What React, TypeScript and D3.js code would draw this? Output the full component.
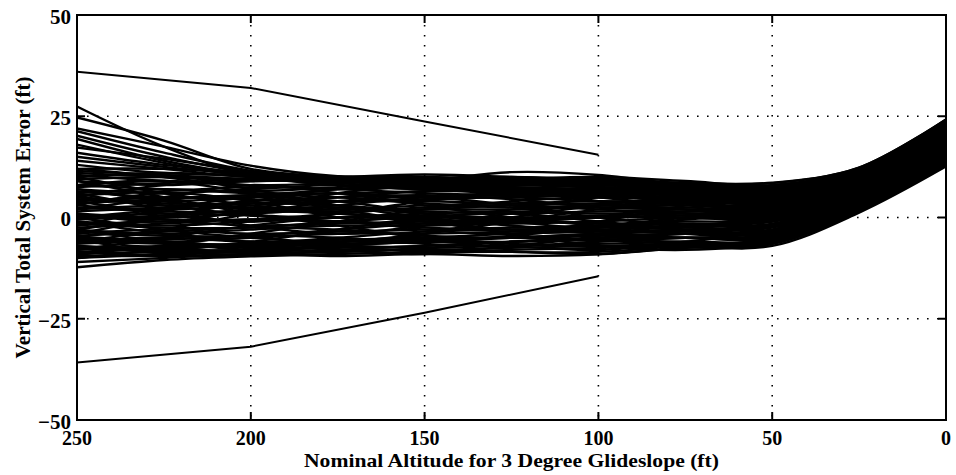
import * as d3 from "d3";

// sample altitudes (ft), left to right on the chart
const altitudes = [250, 225, 200, 175, 150, 125, 100, 75, 50, 25, 0];

// runs that start high and fall into the bundle
const upperTraces = [
  [27.4, 17.5, 10.5, 9.5, 9, 8.5, 8, 7.5, 7, 11.3, 23.3],
  [24.7, 19, 12, 10, 9.5, 9, 8.5, 8, 8, 12, 24],
  [22, 17.5, 12.8, 10.2, 10, 9.5, 9, 8.5, 8.6, 12.3, 24.2],
  [21.3, 16, 11.5, 9, 8, 7.5, 7, 6.5, 6, 10.6, 22.6],
  [20.2, 15, 11, 9.5, 8.5, 8, 7.5, 7, 6.5, 11, 23],
  [19.4, 14, 10.5, 8.5, 7.5, 7, 6.5, 6, 5.5, 10.2, 22.2],
  [18, 13.5, 10, 8, 7, 6.5, 6, 5.5, 5, 9.9, 21.9],
  [17.3, 14.5, 11.5, 10, 9, 8.5, 8, 7.5, 7.5, 11.6, 23.6],
  [16, 13, 11, 9.5, 8.5, 7.5, 7, 7, 6.5, 11, 23],
  [15, 12.5, 10.5, 9, 8, 7, 6, 5.5, 5, 9.9, 21.9],
];

// the main bundle
const bandTraces = [
  [14, 12, 10, 10, 10.6, 10, 9.5, 8.5, 8.5, 12.3, 24.2],
  [13, 11, 10.5, 10, 9, 9.5, 10, 9, 8, 12, 24],
  [12, 12, 11, 9, 8, 8.5, 9, 8, 7, 11.3, 23.3],
  [11, 10, 9, 9.5, 10, 9, 8, 7.5, 7.5, 11.6, 23.6],
  [10, 11, 10, 8, 7, 8, 8.5, 7, 6, 10.6, 22.6],
  [9, 8, 9, 9, 8, 7, 7, 6.5, 6.5, 11, 23],
  [8, 7, 6.5, 7.5, 9, 11.2, 10.5, 8, 7, 11.3, 23.3],
  [8, 9, 8, 7, 7.5, 7, 6, 6, 5.5, 10.2, 22.2],
  [7, 6, 7, 8, 7, 6, 6.5, 6, 5, 9.9, 21.9],
  [6, 7, 6, 6, 6.5, 6.5, 5, 5, 4.5, 9.5, 21.5],
  [5, 4, 5, 6, 5, 5, 5.5, 5, 4, 9.2, 21.2],
  [4, 5, 4.5, 4, 4.5, 5, 4, 4, 3.5, 8.8, 20.8],
  [3, 2, 3, 4, 4, 3.5, 4, 3.5, 3, 8.5, 20.5],
  [2, 3, 2.5, 2, 3, 3.5, 3, 3, 2.5, 8.1, 20.1],
  [1, 0, 1, 2, 2, 2, 2.5, 2.5, 2, 7.8, 19.8],
  [0, 1, 0.5, 0, 1, 1.5, 1, 1.5, 1.5, 7.4, 19.4],
  [-1, -2, -1, 0, 0.5, 0, 0.5, 1, 1, 7, 19],
  [-2, -1, -2, -1.5, -1, -0.5, 0, 0.5, 0.5, 6.7, 18.7],
  [-3, -4, -3, -2, -2, -1.5, -1, 0, 0, 6.3, 18.3],
  [-4, -3, -4, -3.5, -3, -2.5, -2, -1, -0.5, 6, 17.9],
  [-5, -6, -5, -4, -4, -3.5, -3, -2, -1.5, 5.3, 17.2],
  [-6, -5, -6, -5.5, -5, -4, -3.5, -3, -2.5, 4.5, 16.5],
  [-7, -7.5, -6.5, -6, -5.5, -5, -4.5, -4, -3.5, 3.8, 15.6],
  [-8, -7, -7.5, -7.5, -7, -6, -5.5, -5, -4.5, 3, 14.8],
  [-9, -8.5, -8, -7, -7.5, -7, -6.5, -6, -5.5, 2.3, 13.8],
  [-10, -9, -8.5, -8, -8, -7.5, -7, -6.5, -6, 2, 13.4],
  [-12.3, -10.5, -9.6, -9, -8.6, -8.5, -9, -7.4, -7, 1.2, 12.6],
  [-11, -10, -9, -9.5, -9, -9.5, -9.1, -7.5, -6.5, 1.6, 13],
  [6, 2, -2, -4, -2, 1, 3, 2, 0, 6.3, 18.3],
  [-6, -3, 1, 4, 5, 3, 0, -2, -3, 4.1, 16.1],
  [10, 6, 3, 1, 0, 2, 5, 6, 5, 9.9, 21.9],
  [-4, 0, 4, 7, 8, 7, 4, 1, -1, 5.6, 17.6],
  [2, 5, 8, 6, 3, 0, -2, -3, -4, 3.4, 15.2],
  [-9, -7, -4, -1, 2, 4, 5, 4, 2, 7.8, 19.8],
  [12, 10, 7, 3, 0, -2, -3, -2, 0, 6.3, 18.3],
  [0, -3, -5, -6, -4, -1, 2, 4, 5, 9.9, 21.9],
  [4, 1, -1, 1, 4, 6, 6, 4, 1, 7, 19],
  [-2, 2, 5, 4, 1, -2, -4, -5, -5, 2.7, 14.3],
  [8, 9, 6, 2, -1, -3, -2, 0, 2, 7.8, 19.8],
  [-7, -8, -6, -3, 0, 1, -1, -3, -4, 3.4, 15.2],
  [-10, -8, -7, -8, -9, -7, -5, -4, -2, 4.9, 16.9],
  [5, 8, 9, 10, 9, 7, 5, 3, 3, 8.5, 20.5],
  [-5, -9, -8, -6, -5, -7, -8, -6, -3, 4.1, 16.1],
  [9, 5, 1, -2, -5, -6, -4, -2, -1, 5.6, 17.6],
  [3, 6, 4, 0, -3, -4, -1, 3, 6, 10.6, 22.6],
  [-3, -6, -8, -7, -4, 0, 3, 5, 4, 9.2, 21.2],
  [1, -1, 2, 6, 8, 9, 7, 4, 3, 8.5, 20.5],
  [-8, -5, -2, 0, -1, -4, -7, -8, -6, 2, 13.4],
  [9.5, 10, 9.5, 9.5, 9.5, 9, 8.5, 8, 7.8, 11.8, 23.8],
  [7.5, 8.5, 9.5, 10, 9.5, 8.5, 7.5, 7, 6.8, 11.1, 23.1],
  [6.5, 5, 5.5, 7, 8.5, 9, 8.5, 7.5, 6.2, 10.7, 22.7],
  [5.5, 6.5, 7.5, 7, 6, 5.5, 6, 6.5, 5.8, 10.4, 22.4],
  [4.5, 3.5, 3.5, 5, 6.5, 7, 7, 6.5, 5.2, 10, 22],
  [3.5, 4.5, 5.5, 5, 3.5, 2.5, 3, 4, 4.2, 9.3, 21.3],
  [2.5, 1.5, 1.5, 3, 5, 6, 5.5, 4.5, 3.8, 9, 21],
  [1.5, 2.5, 3.5, 3, 1.5, 1, 1.5, 2, 2.8, 8.3, 20.3],
  [0.5, -0.5, -0.5, 1, 2.5, 3, 2, 1, 1.2, 7.2, 19.2],
  [-0.5, 0.5, 1.5, 1, -0.5, -1, 0, 0, -0.2, 6.2, 18.2],
  [-1.5, -2.5, -2.5, -1, 0, -0.5, -1.5, -1.5, -0.8, 5.8, 17.8],
  [-2.5, -1.5, -0.5, -1, -2.5, -3, -2.5, -2, -1.8, 5.1, 17.1],
  [-3.5, -4.5, -4.5, -3, -1.5, -1, -1.5, -2.5, -2.2, 4.8, 16.8],
  [-4.5, -3.5, -2.5, -3, -4.5, -5, -4, -3.5, -3.2, 4, 15.9],
  [-5.5, -6.5, -6.5, -5, -3.5, -3, -3, -4, -3.8, 3.6, 15.4],
  [-6.5, -5.5, -4.5, -5, -6.5, -7, -6, -5, -4.2, 3.2, 15],
  [-7.5, -8.5, -8.5, -7, -5.5, -5, -5.5, -6.5, -5.2, 2.6, 14.2],
  [-8.5, -7.5, -6.5, -7, -8.5, -8, -7.5, -7, -5.8, 2.1, 13.6],
  [-9.5, -9.5, -9, -8.5, -8, -8.5, -8.5, -7, -6.2, 1.8, 13.3],
  [11.5, 10.5, 9.5, 9, 8.5, 9, 9.5, 8.5, 7.2, 11.5, 23.5],
  [10.5, 9, 8, 8.5, 9.5, 10, 9, 7.5, 6.8, 11.1, 23.1],
  [0, 2, 4, 5, 5.5, 4.5, 2.5, 2, 1.8, 7.6, 19.6],
  [-1, -4, -6, -6.5, -6, -4.5, -2.5, -0.5, 0.8, 6.9, 18.9],
  [7, 4, 2, 1.5, 2, 3, 3.5, 4.5, 3.2, 8.7, 20.7],
  [-3, 0, 2, 2.5, 1, -1, -3, -4, -4.8, 2.9, 14.6],
  [5, 3, 0.5, -1, -1.5, -1, 0, 1.5, 2.2, 8, 20],
];

// runs that start low and rise into the bundle
const lowerTraces = [
  [-4.7, -6, -7, -6.5, -6, -5, -4, -3, -2, 4.9, 16.9],
  [-5.9, -7.5, -8.5, -8.5, -7.5, -6, -5, -5, -5, 2.7, 14.3],
  [-7.2, -8, -8, -7, -6, -6.5, -7, -7, -6.5, 1.6, 13],
  [-8.4, -9.5, -9.3, -8, -7, -6, -5.5, -6, -6, 2, 13.4],
];

// the two runs that stop at 100 ft
const outlierAltitudes = [250, 200, 150, 100];
const outlierHigh = [36, 32, 23.7, 15.5];
const outlierLow = [-35.8, -31.9, -23.5, -14.5];

const xTicks = [250, 200, 150, 100, 50, 0];
const yTicks = [-50, -25, 0, 25, 50];

const W = 956;
const H = 475;
const PLOT = { left: 77, right: 946, top: 15, bottom: 420 };
const FONT = "'Liberation Serif', 'Times New Roman', serif";

export default function App() {
  const x = d3.scaleLinear().domain([250, 0]).range([PLOT.left, PLOT.right]);
  const y = d3.scaleLinear().domain([-50, 50]).range([PLOT.bottom, PLOT.top]);
  const fmt = d3.format("d");

  const smooth = d3
    .line<number>()
    .x((_, i) => x(altitudes[i]))
    .y((d) => y(d))
    .curve(d3.curveCatmullRom.alpha(0.5));

  const straight = d3
    .line<number>()
    .x((_, i) => x(outlierAltitudes[i]))
    .y((d) => y(d));

  const allTraces = [...upperTraces, ...bandTraces, ...lowerTraces];

  return (
    <svg
      width={W}
      height={H}
      style={{ position: "absolute", left: 0, top: 0, background: "#fff" }}
      fontFamily={FONT}
      fontWeight="bold"
    >
      <defs>
        <clipPath id="plot">
          <rect x={PLOT.left} y={PLOT.top} width={PLOT.right - PLOT.left} height={PLOT.bottom - PLOT.top} />
        </clipPath>
      </defs>

      {/* dotted grid */}
      {xTicks
        .filter((t) => t !== 250 && t !== 0)
        .map((t) => (
          <line key={"gx" + t} x1={x(t)} x2={x(t)} y1={PLOT.top} y2={PLOT.bottom}
            stroke="#000" strokeWidth={1.6} strokeDasharray="1.6 8.4" />
        ))}
      {yTicks
        .filter((t) => t !== 50 && t !== -50)
        .map((t) => (
          <line key={"gy" + t} x1={PLOT.left} x2={PLOT.right} y1={y(t)} y2={y(t)}
            stroke="#000" strokeWidth={1.6} strokeDasharray="1.6 8.4" />
        ))}

      {/* runs */}
      <g clipPath="url(#plot)" fill="none" stroke="#000" strokeWidth={2.4}>
        {allTraces.map((tr, i) => (
          <path key={i} d={smooth(tr) || ""} />
        ))}
      </g>
      <g clipPath="url(#plot)" fill="none" stroke="#000" strokeWidth={2}>
        <path d={straight(outlierHigh) || ""} />
        <path d={straight(outlierLow) || ""} />
      </g>

      {/* frame and ticks */}
      <rect x={PLOT.left} y={PLOT.top} width={PLOT.right - PLOT.left} height={PLOT.bottom - PLOT.top}
        fill="none" stroke="#000" strokeWidth={2} />
      {xTicks.map((t) => (
        <g key={"tx" + t}>
          <line x1={x(t)} x2={x(t)} y1={PLOT.bottom} y2={PLOT.bottom - 8} stroke="#000" strokeWidth={2} />
          <line x1={x(t)} x2={x(t)} y1={PLOT.top} y2={PLOT.top + 8} stroke="#000" strokeWidth={2} />
          <text x={x(t)} y={445} textAnchor="middle" fontSize={20}>{fmt(t)}</text>
        </g>
      ))}
      {yTicks.map((t) => (
        <g key={"ty" + t}>
          <line x1={PLOT.left} x2={PLOT.left + 8} y1={y(t)} y2={y(t)} stroke="#000" strokeWidth={2} />
          <line x1={PLOT.right} x2={PLOT.right - 8} y1={y(t)} y2={y(t)} stroke="#000" strokeWidth={2} />
          <text x={71} y={y(t)} dy="0.42em" textAnchor="end" fontSize={21}>{fmt(t)}</text>
        </g>
      ))}

      {/* axis titles */}
      <text x={(PLOT.left + PLOT.right) / 2} y={467} textAnchor="middle" fontSize={19}
        textLength={415} lengthAdjust="spacingAndGlyphs">
        Nominal Altitude for 3 Degree Glideslope (ft)
      </text>
      <text transform={`translate(30,${(PLOT.top + PLOT.bottom) / 2}) rotate(-90)`} textAnchor="middle"
        fontSize={20} textLength={282} lengthAdjust="spacingAndGlyphs">
        Vertical Total System Error (ft)
      </text>
    </svg>
  );
}
